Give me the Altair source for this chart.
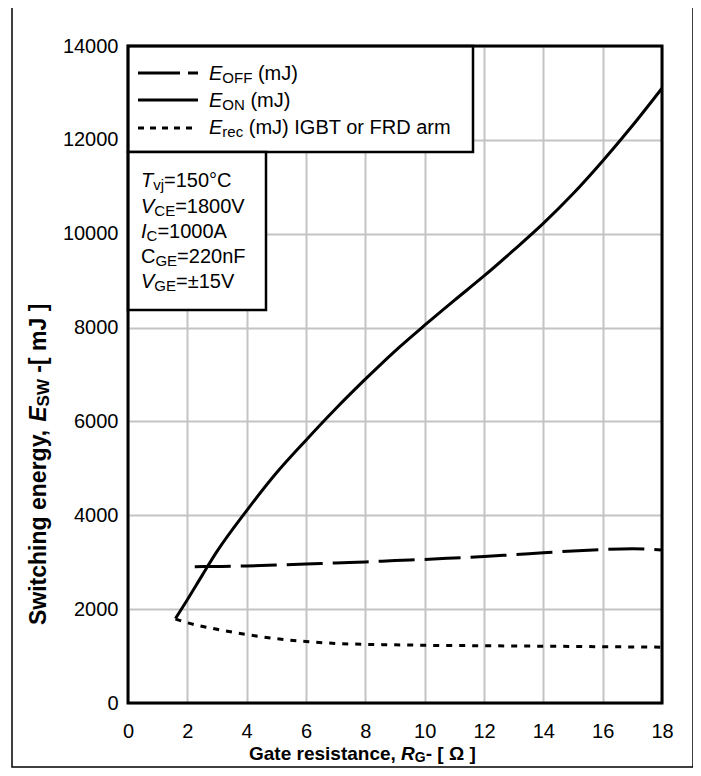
import altair as alt
import pandas as pd

# ---------------- data ----------------
rg_on = [1.6, 2, 2.5, 3, 4, 5, 6, 7, 8, 9, 10, 11, 12, 13, 14, 15, 16, 17, 18]
e_on = [1800, 2200, 2720, 3230, 4100, 4900, 5600, 6270, 6900, 7500, 8050, 8580,
        9100, 9650, 10220, 10850, 11550, 12300, 13100]
rg_off = [2.25, 3, 4, 5, 6, 7, 8, 9, 10, 11, 12, 13, 14, 15, 16, 17, 18]
e_off = [2905, 2910, 2920, 2940, 2960, 2985, 3005, 3035, 3060, 3090, 3120, 3160,
         3200, 3240, 3270, 3285, 3260]
rg_rec = [1.6, 2, 3, 4, 5, 6, 7, 8, 9, 10, 12, 14, 16, 18]
e_rec = [1790, 1710, 1570, 1460, 1370, 1310, 1270, 1250, 1240, 1230, 1220, 1210, 1200, 1190]
x_ticks = list(range(0, 19, 2))
y_ticks = list(range(0, 14001, 2000))

# ---------------- layout ----------------
W, H = 534, 657
FONT = "Liberation Sans"

REG = {' ': 278, '(': 333, ')': 333, 'm': 833, 'J': 500, 'I': 278, 'G': 778, 'B': 667,
       'T': 611, 'o': 556, 'r': 333, 'F': 611, 'R': 722, 'D': 722, 'a': 556, 'E': 667,
       'O': 778, 'N': 722, 'e': 556, 'c': 500, 'v': 500, 'j': 222, '=': 584, '°': 400,
       'C': 722, 'A': 667, 'n': 556, '±': 584, 'V': 667, 'i': 222}
BOLD = {' ': 278, 'G': 778, 'a': 556, 't': 333, 'e': 556, 'r': 389, 's': 556, 'i': 278,
        'n': 611, 'c': 556, ',': 278, 'R': 722, '-': 333, '[': 333, 'Ω': 768, ']': 333,
        'S': 667, 'w': 778, 'h': 611, 'g': 611, 'y': 556, 'E': 667, 'W': 944, 'm': 889,
        'J': 556}


def tw(s, size, bold=False):
    table = BOLD if bold else REG
    return sum(table.get(ch, 556) for ch in s) * size / 1000.0


one = pd.DataFrame({"k": [0]})


def text_run(pieces, x0, y0, bold=False, angle=0, font=FONT, sub_off=3):
    layers = []
    pos = 0.0
    for text, size, italic, sub in pieces:
        stripped = text.lstrip(" ")
        pos += tw(text[: len(text) - len(stripped)], size, bold)
        off = sub_off if sub else 0
        if angle == 0:
            px, py = x0 + pos, y0 + off
        else:
            px, py = x0 + off, y0 - pos
        layers.append(
            alt.Chart(one).mark_text(
                text=stripped, font=font, fontSize=size,
                fontStyle="italic" if italic else "normal",
                fontWeight="bold" if bold else "normal",
                align="left", baseline="alphabetic", angle=angle, color="black",
            ).encode(x=alt.value(px), y=alt.value(py))
        )
        pos += tw(stripped, size, bold)
    return layers


def box(x1, x2, y1, y2, fill, width):
    return alt.Chart(one).mark_rect(
        fill=fill, stroke="black", strokeWidth=width, fillOpacity=1 if fill != "none" else 0
    ).encode(x=alt.value(x1), x2=alt.value(x2), y=alt.value(y1), y2=alt.value(y2))


xs = alt.Scale(domain=[0, 18], nice=False, zero=False)
ys = alt.Scale(domain=[0, 14000], nice=False, zero=True)

xaxis = alt.Axis(values=x_ticks, grid=True, gridColor="#c4c4c4", gridWidth=2,
                 domain=False, ticks=False, labelFont=FONT, labelFontSize=20,
                 labelColor="black", labelPadding=18, title=None, labelFlush=False,
                 format="d")
yaxis = alt.Axis(values=y_ticks, grid=True, gridColor="#c4c4c4", gridWidth=2,
                 domain=False, ticks=False, labelFont=FONT, labelFontSize=20,
                 labelColor="black", labelPadding=10, title=None, labelFlush=False,
                 format="d")

df_on = pd.DataFrame({"rg": rg_on, "e": e_on})
df_off = pd.DataFrame({"rg": rg_off, "e": e_off})
df_rec = pd.DataFrame({"rg": rg_rec, "e": e_rec})

base_axes = alt.Chart(df_on).mark_point(opacity=0).encode(
    x=alt.X("rg:Q", scale=xs, axis=xaxis),
    y=alt.Y("e:Q", scale=ys, axis=yaxis),
)

legend_box = box(0, 345, 0, 106, "white", 2.5)
cond_box = box(0, 138, 106, 264, "white", 2.5)


def curve(df, dash, width):
    kw = dict(color="black", strokeWidth=width, interpolate="monotone", clip=True)
    if dash:
        kw["strokeDash"] = dash
    return alt.Chart(df).mark_line(**kw).encode(
        x=alt.X("rg:Q", scale=xs), y=alt.Y("e:Q", scale=ys))


line_on = curve(df_on, None, 3)
line_off = curve(df_off, [36, 10], 3)
line_rec = curve(df_rec, [6, 7], 3)


def sample(y, dash):
    kw = dict(color="black", strokeWidth=3)
    if dash:
        kw["strokeDash"] = dash
    return alt.Chart(one).mark_rule(**kw).encode(
        x=alt.value(10), x2=alt.value(70), y=alt.value(y))


samples = [sample(27, [42, 8, 10, 8]), sample(54, None), sample(82, [6, 6])]

frame = box(0, W, 0, H, "none", 3)
outer = box(-116, 565, -39, 721, "none", 1.5)

texts = []
texts += text_run([("E", 20, True, False), ("OFF", 15, False, True), (" (mJ)", 20, False, False)], 81, 34)
texts += text_run([("E", 20, True, False), ("ON", 15, False, True), (" (mJ)", 20, False, False)], 81, 61)
texts += text_run([("E", 20, True, False), ("rec", 15, False, True),
                   (" (mJ) IGBT or FRD arm", 20, False, False)], 81, 88)

texts += text_run([("T", 20, True, False), ("vj", 15, False, True), ("=150°C", 20, False, False)], 13, 141)
texts += text_run([("V", 20, True, False), ("CE", 15, False, True), ("=1800V", 20, False, False)], 13, 167)
texts += text_run([("I", 20, True, False), ("C", 15, False, True), ("=1000A", 20, False, False)], 13, 192)
texts += text_run([("C", 20, False, False), ("GE", 15, False, True), ("=220nF", 20, False, False)], 13, 217)
texts += text_run([("V", 20, True, False), ("GE", 15, False, True), ("=±15V", 20, False, False)], 13, 242)

texts += text_run([("Gate resistance, ", 19, False, False), ("R", 19, True, False),
                   ("G", 14, False, True), ("- [ Ω ]", 19, False, False)], 121, 714,
                  bold=True, sub_off=2)

texts += text_run([("Switching energy, ", 23, False, False), ("E", 23, True, False),
                   ("SW", 17, False, True), (" -[ mJ ]", 23, False, False)], -82, 579,
                  bold=True, angle=270)

chart = alt.layer(
    base_axes, legend_box, cond_box, line_off, line_rec, line_on, *samples, frame, outer, *texts
).properties(
    width=W, height=H,
    autosize=alt.AutoSizeParams(type="none"),
    padding={"left": 120, "top": 38, "right": 31, "bottom": 65},
).configure_view(stroke=None).configure(background="white")

chart.save("out.html", embed_options={"renderer": "svg", "actions": False})
